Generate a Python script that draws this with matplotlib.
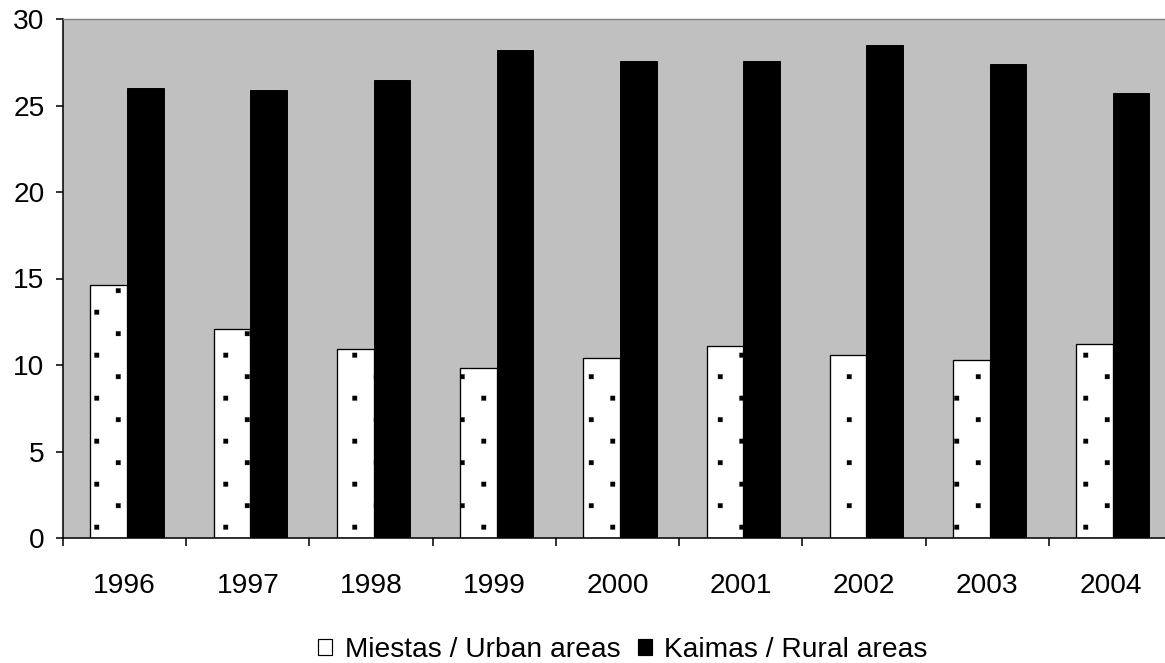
import numpy as np
import matplotlib
matplotlib.use("Agg")
import matplotlib.pyplot as plt
import matplotlib.hatch as mhatch
from matplotlib.path import Path
from matplotlib.patches import Patch

# ---------------------- DATA -------------------------------
years = ["1996", "1997", "1998", "1999", "2000", "2001", "2002", "2003", "2004"]
urban = [14.6, 12.1, 10.9, 9.8, 10.4, 11.1, 10.6, 10.3, 11.2]
rural = [26.0, 25.9, 26.5, 28.2, 27.6, 27.6, 28.5, 27.4, 25.7]
labels = ["Miestas / Urban areas", "Kaimas / Rural areas"]

DPI = 86                      # hatch tile = DPI pixels -> 43 px dot lattice
FONT = 23.5
BG = "#c0c0c0"


class SparseDots(mhatch.HatchPatternBase):
    """Checkerboard of small square dots, replaces the dense '.' hatch."""
    half = 0.026

    def __init__(self, hatch, density):
        self.n = hatch.count(".")
        self.pts = []
        if self.n:
            p = 0.5 / self.n
            m = int(round(1 / p))
            for i in range(m):
                for j in range(m):
                    self.pts.append(((i + 0.25) * p, (j + 0.74) * p))
                    self.pts.append(((i + 0.75) * p, (j + 0.24) * p))
        self.num_vertices = 5 * len(self.pts)

    def set_vertices_and_codes(self, vertices, codes):
        h = self.half
        sq = np.array([[-h, -h], [h, -h], [h, h], [-h, h], [-h, -h]])
        for k, (px, py) in enumerate(self.pts):
            vertices[5 * k:5 * k + 5] = sq + (px, py)
            codes[5 * k] = Path.MOVETO
            codes[5 * k + 1:5 * k + 4] = Path.LINETO
            codes[5 * k + 4] = Path.CLOSEPOLY


mhatch._hatch_types = [t for t in mhatch._hatch_types
                       if t is not mhatch.SmallFilledCircles] + [SparseDots]

plt.rcParams["font.family"] = ["Liberation Sans", "DejaVu Sans"]
plt.rcParams["hatch.linewidth"] = 0.3

W, H = 1165, 663
fig = plt.figure(figsize=(W / DPI, H / DPI), dpi=DPI)
ax = fig.add_axes([63 / W, (H - 538) / H, (1172 - 63) / W, (538 - 19) / H])
ax.set_facecolor(BG)

x = np.arange(len(years))
bw = 0.297
ax.bar(x - bw / 2 + 0.02, urban, width=bw, color="white", edgecolor="black",
       linewidth=1.1, hatch=".")
ax.bar(x + bw / 2 + 0.02, rural, width=bw, color="black", edgecolor="black",
       linewidth=0.8)

ax.set_xlim(-0.5, len(years) - 0.5)
ax.set_ylim(0, 30)
ax.set_yticks(np.arange(0, 31, 5))

# year labels at category centres, tick marks at category boundaries
ax.set_xticks(x)
ax.set_xticklabels(years)
ax.set_xticks(np.arange(-0.5, len(years)), minor=True)
ax.tick_params(axis="x", which="major", length=0, pad=29, labelsize=FONT)
ax.tick_params(axis="x", which="minor", length=6.5, width=1.3, direction="out")
ax.tick_params(axis="y", length=6, width=1.3, direction="out", pad=9.5,
               labelsize=FONT)

for side in ("left", "bottom"):
    ax.spines[side].set_color("black")
    ax.spines[side].set_linewidth(1.3)
for side in ("top", "right"):
    ax.spines[side].set_color("#808080")
    ax.spines[side].set_linewidth(1.2)

handles = [Patch(facecolor="white", edgecolor="black", linewidth=1.0),
           Patch(facecolor="black", edgecolor="black", linewidth=1.0)]
fig.legend(handles, labels, loc="center", ncol=2, frameon=False,
           fontsize=FONT, handlelength=0.5, handleheight=0.5,
           handletextpad=0.45, columnspacing=0.6, borderpad=0,
           bbox_to_anchor=(623 / W, 1 - 650 / H))

fig.savefig("out.png", dpi=DPI)
